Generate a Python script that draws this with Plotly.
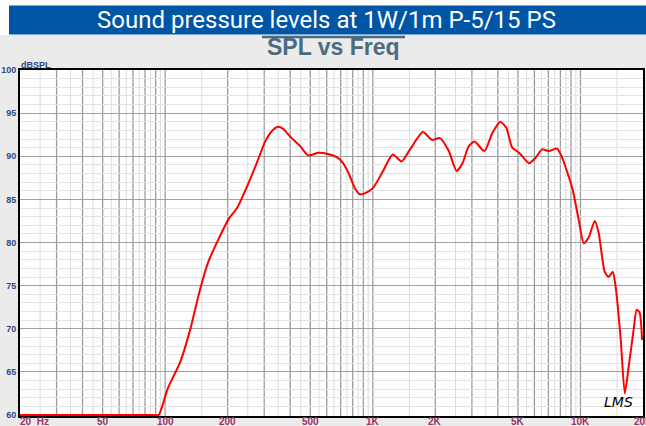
import math
import plotly.graph_objects as go

# ---------------- data ----------------
freq_hz = [20, 40, 70, 88, 93, 103, 118, 132, 147, 161, 180, 203, 222, 247, 276, 303, 326, 347, 369,
           399, 446, 488, 546, 601, 670, 715, 759, 820, 866, 915, 1001, 1115, 1248, 1375,
           1503, 1742, 1926, 2106, 2322, 2531, 2704, 2888, 3087, 3446, 3763, 4110, 4392,
           4693, 5067, 5660, 6111, 6529, 7050, 7700, 8140, 8790, 9180, 9810, 10370, 10960,
           11710, 12240, 13080, 13680, 14300, 14780, 15630, 16340, 17060, 18030, 18640,
           19250, 19800]
spl_db = [60, 60, 60, 60, 60, 63.1, 66.1, 69.9, 74.5, 77.7, 80.3, 82.8, 84.0, 86.4, 89.2, 91.7, 92.9,
          93.4, 93.2, 92.3, 91.2, 90.1, 90.4, 90.3, 89.9, 89.3, 88.2, 86.3, 85.6, 85.7, 86.3,
          88.2, 90.2, 89.4, 90.7, 92.8, 91.9, 92.1, 90.6, 88.3, 89.2, 91.1, 91.7, 90.6, 92.7,
          94.0, 93.3, 91.0, 90.4, 89.2, 89.9, 90.8, 90.6, 90.9, 89.9, 87.6, 86.1, 82.6, 79.9,
          80.6, 82.5, 81.1, 76.6, 76.0, 76.6, 74.8, 68.7, 62.5, 65.6, 69.9, 72.2, 71.9, 68.7]

x_tick_vals = [20, 50, 100, 200, 500, 1000, 2000, 5000, 10000, 20000]
x_tick_text = ["20  Hz", "50", "100", "200", "500", "1K", "2K", "5K", "10K", "20K"]
y_tick_vals = [60, 65, 70, 75, 80, 85, 90, 95, 100]

main_title = "Sound pressure levels at 1W/1m P-5/15 PS"
sub_title = "SPL vs Freq"
y_unit = "dBSPL"

# ---------------- layout helpers ----------------
W, H = 646, 426
L, R, T = 20, 643, 70
Y60 = 415            # pixel row of 60 dB
B = 416              # plot bottom pixel (a hair below 60 dB so the flat line shows)
PX_PER_DB = (Y60 - T) / 40.0
Y_MIN = 60 - (B - Y60) / PX_PER_DB


def px(x):
    return (x - L) / (R - L)


def py(y):
    return (B - y) / (B - T)


fig = go.Figure()
fig.add_trace(go.Scatter(
    x=freq_hz, y=spl_db, mode="lines",
    line=dict(color="#FF0000", width=2, shape="spline", smoothing=0.6),
    hoverinfo="skip", showlegend=False,
))

shapes = []
# white strip on top + blue title bar
shapes.append(dict(type="rect", xref="paper", yref="paper", x0=px(-5), x1=px(W + 5),
                   y0=py(35), y1=py(-5), fillcolor="white", line=dict(width=0), layer="below"))
shapes.append(dict(type="rect", xref="paper", yref="paper", x0=px(9), x1=px(W + 5),
                   y0=py(34.5), y1=py(5.5), fillcolor="#0055A4", line=dict(width=0), layer="below"))
# overline above subtitle
shapes.append(dict(type="line", xref="paper", yref="paper", x0=px(262), x1=px(405),
                   y0=py(37), y1=py(37), line=dict(color="#4B6B80", width=2.5), layer="below"))

# vertical log grid (shape positions on log axes are data values)
for dec in [10, 100, 1000, 10000]:
    for k in range(1, 10):
        f = k * dec
        if 20 < f < 20000:
            shapes.append(dict(type="line", xref="x", yref="paper", x0=f, x1=f,
                               y0=0, y1=1, line=dict(color="#9C9C9C", width=1.3), layer="below"))
        fh = (k + 0.5) * dec
        if 20 < fh < 20000:
            shapes.append(dict(type="line", xref="x", yref="paper", x0=fh, x1=fh,
                               y0=0, y1=1, line=dict(color="#DCDCDC", width=1), layer="below"))

annotations = []
annotations.append(dict(text=main_title, xref="paper", yref="paper", x=px(326), y=py(20),
                        xanchor="center", yanchor="middle", showarrow=False,
                        font=dict(family="Roboto", size=24, color="white")))
annotations.append(dict(text="<b>" + sub_title + "</b>", xref="paper", yref="paper", x=px(333), y=py(47),
                        xanchor="center", yanchor="middle", showarrow=False,
                        font=dict(family="Liberation Sans", size=23, color="#4B6B80")))
annotations.append(dict(text="<b>" + y_unit + "</b>", xref="paper", yref="paper", x=px(19), y=py(65),
                        xanchor="left", yanchor="middle", showarrow=False,
                        font=dict(family="Liberation Sans", size=9, color="#2A4A8A")))
for v, t in zip(x_tick_vals, x_tick_text):
    annotations.append(dict(text="<b>" + t + "</b>", xref="x", yref="paper", x=math.log10(v), y=py(421),
                            xanchor="left" if v == 20 else "center", xshift=-2 if v == 20 else 0,
                            yanchor="middle", showarrow=False,
                            font=dict(family="Liberation Sans", size=10, color="#993366")))
annotations.append(dict(text="<i>LMS</i>", xref="paper", yref="paper", x=px(618), y=py(402),
                        xanchor="center", yanchor="middle", showarrow=False,
                        font=dict(family="DejaVu Sans", size=14, color="black")))

fig.update_layout(
    width=W, height=H,
    margin=dict(l=L, r=W - R, t=T, b=H - B, pad=0),
    paper_bgcolor="#EBEBEB", plot_bgcolor="white",
    shapes=shapes, annotations=annotations, showlegend=False,
    xaxis=dict(type="log", range=[math.log10(20), math.log10(20000)], showgrid=False,
               showticklabels=False, ticks="", zeroline=False,
               showline=True, mirror=True, linecolor="black", linewidth=2,
               layer="below traces", automargin=False, fixedrange=True),
    yaxis=dict(range=[Y_MIN, 100], tickvals=y_tick_vals, ticks="",
               tickfont=dict(family="Liberation Sans", size=9, color="#2A4A8A", weight="bold"),
               showgrid=True, gridcolor="#A0A0A0", gridwidth=1,
               minor=dict(dtick=1, showgrid=True, gridcolor="#E3E3E3", gridwidth=1),
               zeroline=False, showline=True, mirror=True, linecolor="black", linewidth=2,
               layer="below traces", automargin=False, fixedrange=True),
)

fig.write_html(
    "out.html",
    config={"displayModeBar": False},
    post_script="document.body.style.margin='0';document.body.style.overflow='hidden';",
)
